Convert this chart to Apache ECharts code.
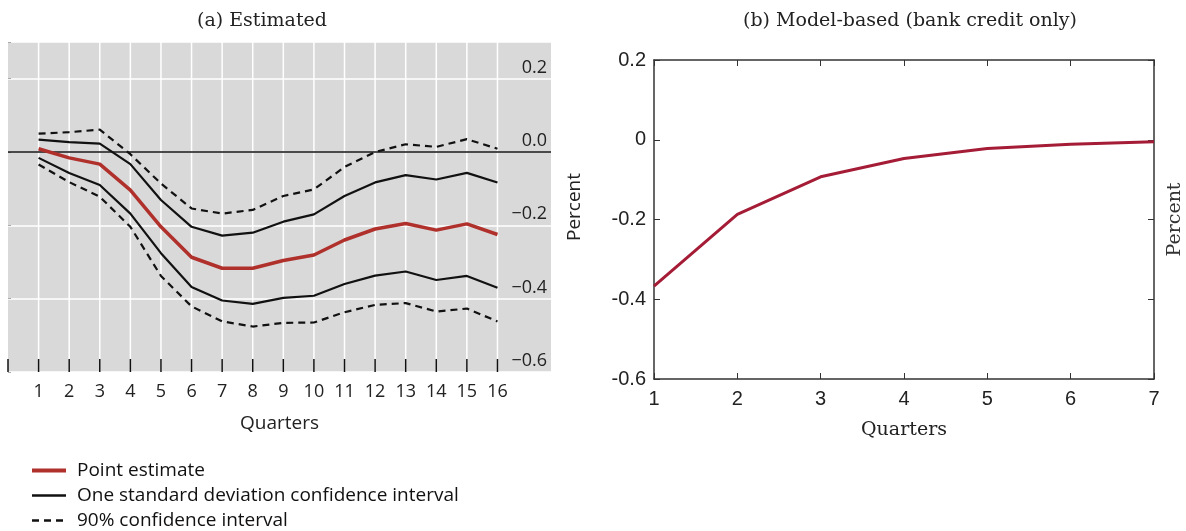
<!DOCTYPE html>
<html>
<head>
<meta charset="utf-8">
<script src="https://cdn.jsdelivr.net/npm/echarts@6/dist/echarts.min.js"></script>
<style>
  html, body { margin: 0; padding: 0; background: #fff; }
  #chart { width: 1186px; height: 531px; }
</style>
</head>
<body>
<div id="chart"></div>
<script>
// (a) estimated responses, quarters 1..16
const quarters = [1, 2, 3, 4, 5, 6, 7, 8, 9, 10, 11, 12, 13, 14, 15, 16];
const pointEstimate = [0.009, -0.016, -0.033, -0.104, -0.204, -0.287, -0.317, -0.317, -0.296, -0.281, -0.240, -0.210, -0.195, -0.213, -0.196, -0.225];
const sdUpper = [0.034, 0.027, 0.023, -0.033, -0.131, -0.204, -0.228, -0.220, -0.190, -0.170, -0.120, -0.083, -0.063, -0.075, -0.057, -0.083];
const sdLower = [-0.016, -0.057, -0.090, -0.168, -0.276, -0.368, -0.405, -0.414, -0.398, -0.392, -0.360, -0.337, -0.326, -0.349, -0.338, -0.370];
const ciUpper = [0.050, 0.054, 0.061, -0.006, -0.086, -0.154, -0.168, -0.158, -0.120, -0.102, -0.041, 0.000, 0.021, 0.014, 0.035, 0.009];
const ciLower = [-0.034, -0.082, -0.122, -0.204, -0.338, -0.421, -0.462, -0.476, -0.466, -0.465, -0.437, -0.417, -0.412, -0.435, -0.427, -0.462];

// (b) model-based response, quarters 1..7
const modelQuarters = [1, 2, 3, 4, 5, 6, 7];
const modelResponse = [-0.367, -0.187, -0.093, -0.047, -0.022, -0.011, -0.005];

const sans = "Open Sans";
const serif = "DejaVu Serif";
const pair = (xs, ys) => xs.map((x, i) => [x, ys[i]]);

const chart = echarts.init(document.getElementById("chart"));

const option = {
  animation: false,
  title: [
    { text: "(a) Estimated", left: 257, top: 7, textAlign: "center",
      textStyle: { fontFamily: serif, fontWeight: "normal", fontSize: 19, color: "#222" } },
    { text: "(b) Model-based (bank credit only)", left: 905, top: 7, textAlign: "center",
      textStyle: { fontFamily: serif, fontWeight: "normal", fontSize: 19, color: "#222" } },
  ],
  legend: {
    orient: "vertical",
    left: 30,
    top: 461,
    height: 80,
    padding: 0,
    itemWidth: 34,
    itemHeight: 14,
    itemGap: 6,
    itemStyle: { opacity: 0 },
    data: [
      { name: "Point estimate", lineStyle: { width: 4 } },
      { name: "One standard deviation confidence interval", lineStyle: { width: 2.5 } },
      { name: "90% confidence interval", lineStyle: { width: 2.5 } },
    ],
    textStyle: { fontFamily: sans, fontSize: 19, lineHeight: 19, color: "#111", padding: [0, 0, 0, 6] },
  },
  grid: [
    { left: 8, top: 42, width: 543, height: 330, show: true, backgroundColor: "#d9d9d9", borderWidth: 0 },
    { left: 654, top: 60, width: 508, height: 319 },
  ],
  xAxis: [
    {
      type: "value", gridIndex: 0, min: 0, max: 17.75, interval: 1,
      axisLine: { show: false }, axisTick: { show: false }, splitLine: { show: false },
      axisLabel: {
        margin: 11, fontFamily: sans, fontSize: 18, color: "#222",
        formatter: (v) => (v >= 1 && v <= 16 ? String(v) : ""),
      },
      name: "Quarters", nameLocation: "middle", nameGap: 42,
      nameTextStyle: { fontFamily: sans, fontSize: 19, color: "#222" },
    },
    {
      type: "value", gridIndex: 1, min: 1, max: 7, interval: 1,
      axisLine: { onZero: false, lineStyle: { color: "#333", width: 1.5 } },
      axisTick: { inside: true, length: 6, lineStyle: { color: "#333" } },
      splitLine: { show: false },
      axisLabel: { margin: 10, fontFamily: "Liberation Sans", fontSize: 20, color: "#222" },
      name: "Quarters", nameLocation: "middle", nameGap: 42,
      nameTextStyle: { fontFamily: serif, fontSize: 19, color: "#222" },
    },
    {
      type: "value", gridIndex: 1, min: 1, max: 7, interval: 1, position: "top",
      axisLine: { onZero: false, lineStyle: { color: "#333", width: 1.5 } },
      axisTick: { inside: true, length: 6, lineStyle: { color: "#333" } },
      axisLabel: { show: false }, splitLine: { show: false },
    },
  ],
  yAxis: [
    {
      type: "value", gridIndex: 0, position: "right", min: -0.6, max: 0.3, interval: 0.2,
      axisLine: { show: false },
      axisTick: { show: true, length: 3, lineStyle: { color: "#aaa" } },
      splitLine: { lineStyle: { color: "#fff", width: 1.5 } },
      axisLabel: {
        inside: true, margin: 4, verticalAlign: "bottom", padding: [0, 0, 2, 0],
        fontFamily: sans, fontSize: 18, color: "#222",
        formatter: (v) => (v > 0.25 ? "" : (v < -1e-9 ? "\u2212" : "") + Math.abs(v).toFixed(1)),
      },
      name: "Percent", nameLocation: "middle", nameGap: 14,
      nameTextStyle: { fontFamily: sans, fontSize: 19, color: "#222" },
    },
    {
      type: "value", gridIndex: 1, min: -0.6, max: 0.2, interval: 0.2,
      axisLine: { show: true, onZero: false, lineStyle: { color: "#333", width: 1.5 } },
      axisTick: { show: true, inside: true, length: 6, lineStyle: { color: "#333" } },
      splitLine: { show: false },
      axisLabel: { margin: 8, fontFamily: "Liberation Sans", fontSize: 20, color: "#222" },
    },
    {
      type: "value", gridIndex: 1, position: "right", min: -0.6, max: 0.2, interval: 0.2,
      axisLine: { show: true, onZero: false, lineStyle: { color: "#333", width: 1.5 } },
      axisTick: { show: true, inside: true, length: 6, lineStyle: { color: "#333" } },
      axisLabel: { show: false }, splitLine: { show: false },
      name: "Percent", nameLocation: "middle", nameGap: 12,
      nameTextStyle: { fontFamily: serif, fontSize: 19, color: "#333" },
    },
  ],
  series: [
    {
      // white vertical grid lines and inward ticks at each quarter
      type: "custom", xAxisIndex: 0, yAxisIndex: 0, silent: true, z: 1,
      data: [0].concat(quarters).map((q) => [q]),
      renderItem: (params, api) => {
        const x = api.value(0);
        const top = api.coord([x, 0.3]);
        const bot = api.coord([x, -0.6]);
        const children = [
          { type: "line", shape: { x1: bot[0], y1: bot[1], x2: bot[0], y2: bot[1] - 13 },
            style: { stroke: "#111", lineWidth: 1.5 } },
        ];
        if (x > 0) {
          children.unshift({ type: "line", shape: { x1: top[0], y1: top[1], x2: bot[0], y2: bot[1] },
            style: { stroke: "#fff", lineWidth: 1.5 } });
        }
        return { type: "group", children: children };
      },
    },
    {
      name: "90% confidence interval", type: "line", xAxisIndex: 0, yAxisIndex: 0,
      data: pair(quarters, ciUpper), symbol: "none", z: 3,
      lineStyle: { color: "#111", width: 2.2, type: [7, 5] }, itemStyle: { color: "#111" },
    },
    {
      name: "90% confidence interval", type: "line", xAxisIndex: 0, yAxisIndex: 0,
      data: pair(quarters, ciLower), symbol: "none", z: 3,
      lineStyle: { color: "#111", width: 2.2, type: [7, 5] }, itemStyle: { color: "#111" },
    },
    {
      name: "One standard deviation confidence interval", type: "line", xAxisIndex: 0, yAxisIndex: 0,
      data: pair(quarters, sdUpper), symbol: "none", z: 3,
      lineStyle: { color: "#111", width: 2.2 }, itemStyle: { color: "#111" },
    },
    {
      name: "One standard deviation confidence interval", type: "line", xAxisIndex: 0, yAxisIndex: 0,
      data: pair(quarters, sdLower), symbol: "none", z: 3,
      lineStyle: { color: "#111", width: 2.2 }, itemStyle: { color: "#111" },
    },
    {
      name: "Point estimate", type: "line", xAxisIndex: 0, yAxisIndex: 0,
      data: pair(quarters, pointEstimate), symbol: "none", z: 4,
      lineStyle: { color: "#b0302c", width: 3.5 }, itemStyle: { color: "#b0302c" },
      markLine: {
        silent: true, symbol: "none", label: { show: false }, z: 2,
        lineStyle: { color: "#111", width: 1.5, type: "solid" },
        data: [{ yAxis: 0 }],
      },
    },
    {
      name: "Model-based", type: "line", xAxisIndex: 1, yAxisIndex: 1,
      data: pair(modelQuarters, modelResponse), symbol: "none",
      lineStyle: { color: "#a51c36", width: 3 },
    },
  ],
};

chart.setOption(option);
</script>
</body>
</html>
